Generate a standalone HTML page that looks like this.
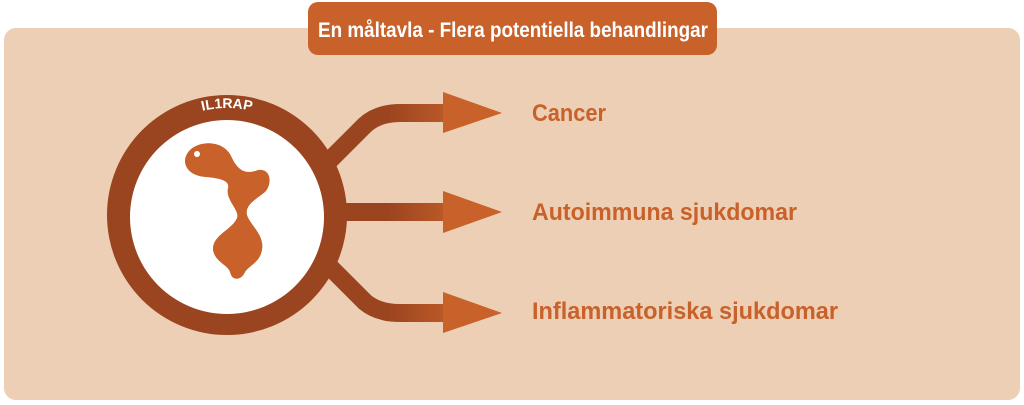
<!DOCTYPE html>
<html><head><meta charset="utf-8"><style>
html,body{margin:0;padding:0;background:#fff;width:1024px;height:405px;overflow:hidden}
</style></head><body>
<svg width="1024" height="405" viewBox="0 0 1024 405" xmlns="http://www.w3.org/2000/svg">
<defs>
<linearGradient id="g" x1="330" y1="0" x2="470" y2="0" gradientUnits="userSpaceOnUse">
<stop offset="0" stop-color="#9A4420"/><stop offset="0.4" stop-color="#9A4420"/><stop offset="1" stop-color="#C8612A"/>
</linearGradient>
<path id="arc" d="M 120 215 A 107 107 0 0 1 334 215"/>
</defs>
<rect x="4" y="28" width="1016" height="372" rx="12" fill="#EDCFB5"/>
<rect x="308" y="2" width="409" height="53" rx="10" fill="#C8612A"/>
<text x="318" y="37" textLength="390" lengthAdjust="spacingAndGlyphs" font-family="Liberation Sans, sans-serif" font-weight="bold" font-size="21" fill="#fff">En måltavla - Flera potentiella behandlingar</text>
<g fill="none" stroke="url(#g)" stroke-width="18">
<path d="M 325 165 L 365 125 Q 378 113 400 113 L 450 113"/>
<path d="M 330 212 L 450 212"/>
<path d="M 325 262 L 365 302 Q 378 313 400 313 L 450 313"/>
</g>
<g fill="#C8612A">
<polygon points="443,92 502,113 443,133"/>
<polygon points="443,191 502,212 443,233"/>
<polygon points="443,292 502,313 443,333"/>
</g>
<circle cx="227" cy="215" r="120" fill="#9A4420"/>
<circle cx="227" cy="217" r="97" fill="#fff"/>
<text font-family="Liberation Sans, sans-serif" font-weight="bold" font-size="14" fill="#fff" text-anchor="middle"><textPath href="#arc" startOffset="50%">IL1RAP</textPath></text>
<path fill="#C8612A" d="M 190 150 C 200 140, 225 140, 232 158 C 238 170, 245 175, 258 170 C 272 168, 272 185, 265 192 C 255 200, 245 205, 247 215 C 250 225, 265 235, 262 250 C 260 262, 250 265, 245 272 C 242 280, 232 282, 230 272 C 228 265, 215 262, 213 250 C 212 235, 232 230, 237 218 C 240 210, 225 200, 228 188 C 230 180, 218 178, 205 177 C 185 175, 180 160, 190 150 Z"/>
<circle cx="197" cy="154" r="3" fill="#fff"/>
<g font-family="Liberation Sans, sans-serif" font-weight="bold" font-size="24" fill="#C8612A">
<text x="532" y="121" textLength="74" lengthAdjust="spacingAndGlyphs">Cancer</text>
<text x="532" y="220" textLength="265" lengthAdjust="spacingAndGlyphs">Autoimmuna sjukdomar</text>
<text x="532" y="319" textLength="306" lengthAdjust="spacingAndGlyphs">Inflammatoriska sjukdomar</text>
</g>
</svg>
</body></html>
